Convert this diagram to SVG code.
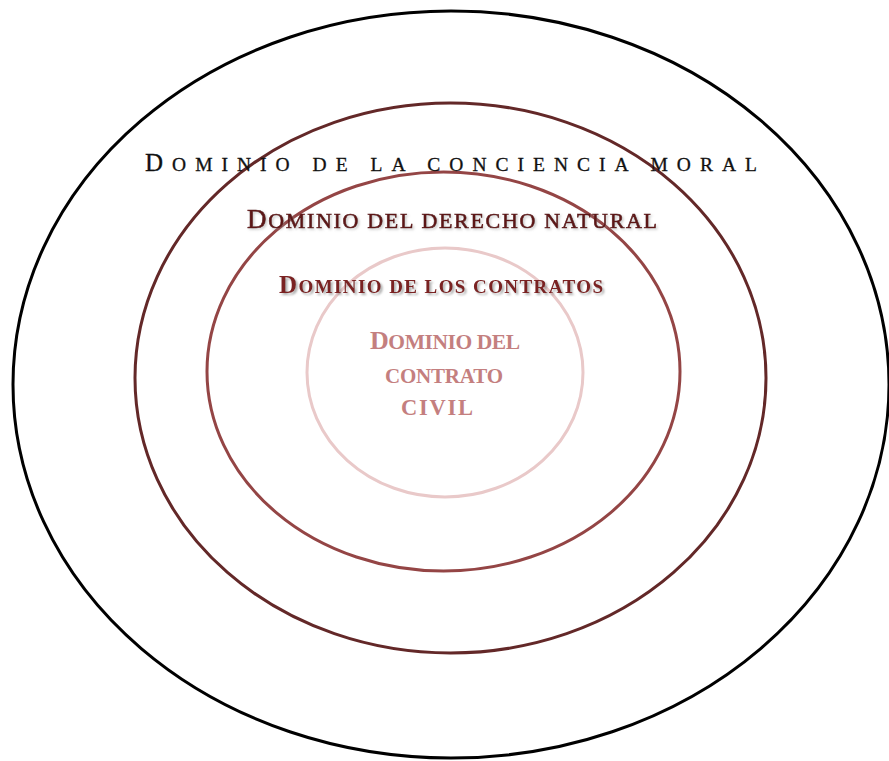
<svg xmlns="http://www.w3.org/2000/svg" width="889" height="761" viewBox="0 0 889 761">
<defs>
<style>
.ring{fill:none;stroke-width:3}
.lbl{font-family:"Liberation Serif","Times New Roman",serif;}
</style>
<filter id="sh" x="-5%" y="-30%" width="110%" height="160%">
<feDropShadow dx="2" dy="2" stdDeviation="1.2" flood-color="#777" flood-opacity="0.6"/>
</filter>
<filter id="sh2" x="-5%" y="-30%" width="110%" height="160%">
<feDropShadow dx="1.5" dy="1.5" stdDeviation="1" flood-color="#888" flood-opacity="0.45"/>
</filter>
</defs>
<rect width="889" height="761" fill="#fff"/>
<g id="connectors"></g>
<g id="conciencia-moral">
<ellipse class="ring" cx="451" cy="384.5" rx="438" ry="373.5" stroke="#000"/>
</g>
<g id="derecho-natural">
<ellipse class="ring" cx="450.5" cy="378" rx="315.5" ry="275" stroke="#632828"/>
</g>
<g id="contratos">
<ellipse class="ring" cx="443.5" cy="371.5" rx="236.5" ry="199.5" stroke="#944545"/>
</g>
<g id="contrato-civil">
<ellipse class="ring" cx="445" cy="372.5" rx="138" ry="124.5" stroke="#e9c9c9"/>
</g>
<g id="labels">
<text class="lbl" x="145" y="171" textLength="612" lengthAdjust="spacing" fill="#111" stroke="#111" stroke-width="0.3"><tspan font-size="25">D</tspan><tspan font-size="19.5">OMINIO DE LA CONCIENCIA MORAL</tspan></text>
<text class="lbl" x="247" y="228" textLength="410" lengthAdjust="spacing" fill="#5c1616" stroke="#5c1616" stroke-width="0.6" filter="url(#sh2)"><tspan font-size="27">D</tspan><tspan font-size="22">OMINIO DEL DERECHO NATURAL</tspan></text>
<text class="lbl" x="279" y="293" textLength="324" lengthAdjust="spacing" fill="#7a2020" font-weight="bold" filter="url(#sh)"><tspan font-size="25">D</tspan><tspan font-size="19">OMINIO DE LOS CONTRATOS</tspan></text>
<g fill="#c47f7f" class="lbl" font-weight="bold">
<text x="370" y="349" textLength="150" lengthAdjust="spacing"><tspan font-size="26">D</tspan><tspan font-size="21.5">OMINIO DEL</tspan></text>
<text x="385" y="383" textLength="118" lengthAdjust="spacing" font-size="21">CONTRATO</text>
<text x="401" y="415" textLength="72" lengthAdjust="spacing" font-size="22.5">CIVIL</text>
</g>
</g>
</svg>
